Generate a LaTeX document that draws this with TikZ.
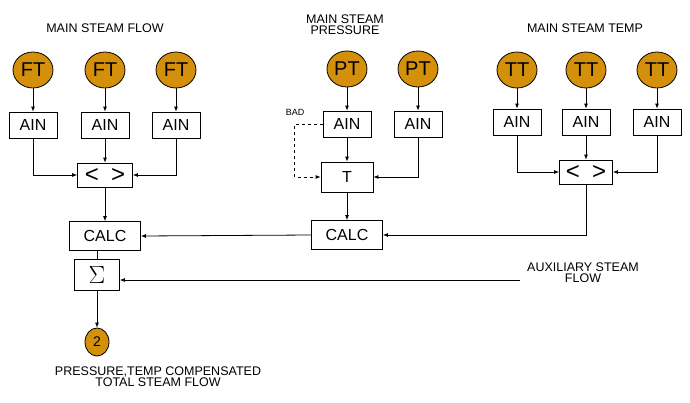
\documentclass[tikz,border=0pt]{standalone}
\usepackage{fontspec}
\setmainfont{Liberation Sans}
\usepackage{xcolor}
\usetikzlibrary{shapes.geometric,arrows.meta}
\definecolor{sensorfill}{HTML}{D4900A}

\tikzset{
  sensor/.style={ellipse, draw, fill=sensorfill, minimum width=40pt, minimum height=36pt, inner sep=0pt, font=\fontsize{20}{20}\selectfont},
  blk/.style={rectangle, draw, fill=white, minimum width=48pt, minimum height=26pt, inner sep=0pt, font=\fontsize{16}{16}\selectfont},
  selbox/.style={blk, minimum width=55pt, minimum height=24pt, font=\fontsize{24}{24}\selectfont},
  lbl/.style={font=\fontsize{12.5}{12}\selectfont, align=center},
  sig/.style={-{Latex[length=5pt,width=4pt]}}
}

\begin{document}
\begin{tikzpicture}[x=1pt,y=-1pt, line width=0.8pt]
  \useasboundingbox (0,0) rectangle (690,402);
  % titles
  \node[lbl] (tflow) at (105,28) {MAIN STEAM FLOW};
  \node[lbl] (tpres) at (345,25) {MAIN STEAM\\[-1pt]PRESSURE};
  \node[lbl] (ttemp) at (585,28) {MAIN STEAM TEMP};
  % transmitters
  \node[sensor] (ft1) at (33,70) {FT};
  \node[sensor] (ft2) at (105,70) {FT};
  \node[sensor] (ft3) at (176,70) {FT};
  \node[sensor] (pt1) at (347,69) {PT};
  \node[sensor] (pt2) at (418,69) {PT};
  \node[sensor] (tt1) at (517,70) {TT};
  \node[sensor] (tt2) at (586,70) {TT};
  \node[sensor] (tt3) at (657,70) {TT};
  % analog inputs
  \node[blk] (af1) at (33,125) {AIN};
  \node[blk] (af2) at (105,125) {AIN};
  \node[blk] (af3) at (176,125) {AIN};
  \node[blk] (ap1) at (347,124) {AIN};
  \node[blk] (ap2) at (418,124) {AIN};
  \node[blk] (at1) at (517,122) {AIN};
  \node[blk] (at2) at (586,122) {AIN};
  \node[blk] (at3) at (657,122) {AIN};
  % selectors
  \node[selbox] (self) at (105,175) {<\,\,\,>};
  \node[blk, minimum width=52pt, minimum height=30pt] (tsel) at (347,177) {T};
  \node[selbox, minimum width=53pt] (selt) at (586,172) {<\,\,\,>};
  % calc
  \node[blk, minimum width=71pt, minimum height=29pt] (calcf) at (105,236) {CALC};
  \node[blk, minimum width=71pt, minimum height=29pt] (calcp) at (347,235) {CALC};
  \node[blk, minimum width=45pt, minimum height=31pt, font=\fontsize{30}{30}\selectfont] (sum) at (97,275) {$\Sigma$};
  \node[ellipse, draw, fill=sensorfill, minimum width=24pt, minimum height=28pt, inner sep=0pt, font=\fontsize{14}{14}\selectfont] (out) at (97,342) {2};
  \node[lbl] (outlbl) at (158,377) {PRESSURE,TEMP COMPENSATED\\[-1pt]TOTAL STEAM FLOW};
  \node[lbl] (aux) at (583,273) {AUXILIARY STEAM\\[-1pt]FLOW};
  \node[font=\fontsize{9}{9}\selectfont] (bad) at (295,112) {BAD};
  \coordinate (auxin) at (520,280);
  % connections
  \foreach \s/\a in {ft1/af1, ft2/af2, ft3/af3, pt1/ap1, pt2/ap2, tt1/at1, tt2/at2, tt3/at3}
    \draw[sig] (\s.south) -- (\a.north);
  \draw[sig] (af1.south) |- (self.west);
  \draw[sig] (af2.south) -- (self.north);
  \draw[sig] (af3.south) |- (self.east);
  \draw[sig] (at1.south) |- (selt.west);
  \draw[sig] (at2.south) -- (selt.north);
  \draw[sig] (at3.south) |- (selt.east);
  \draw[sig] (ap1.south) -- (tsel.north);
  \draw[sig] (ap2.south) |- (tsel.east);
  \draw[sig, dashed] (ap1.west) -- ++(-28,0) |- (tsel.west);
  \draw[sig] (self.south) -- (calcf.north);
  \draw[sig] (tsel.south) -- (calcp.north);
  \draw[sig] (calcp.west) -- (calcf.east);
  \draw[sig] (selt.south) |- (calcp.east);
  \draw (calcf.south -| sum.north) -- (sum.north);
  \draw[sig] (auxin) -- (sum.east |- auxin);
  \draw[sig] (sum.south) -- (out.north);
\end{tikzpicture}
\end{document}
